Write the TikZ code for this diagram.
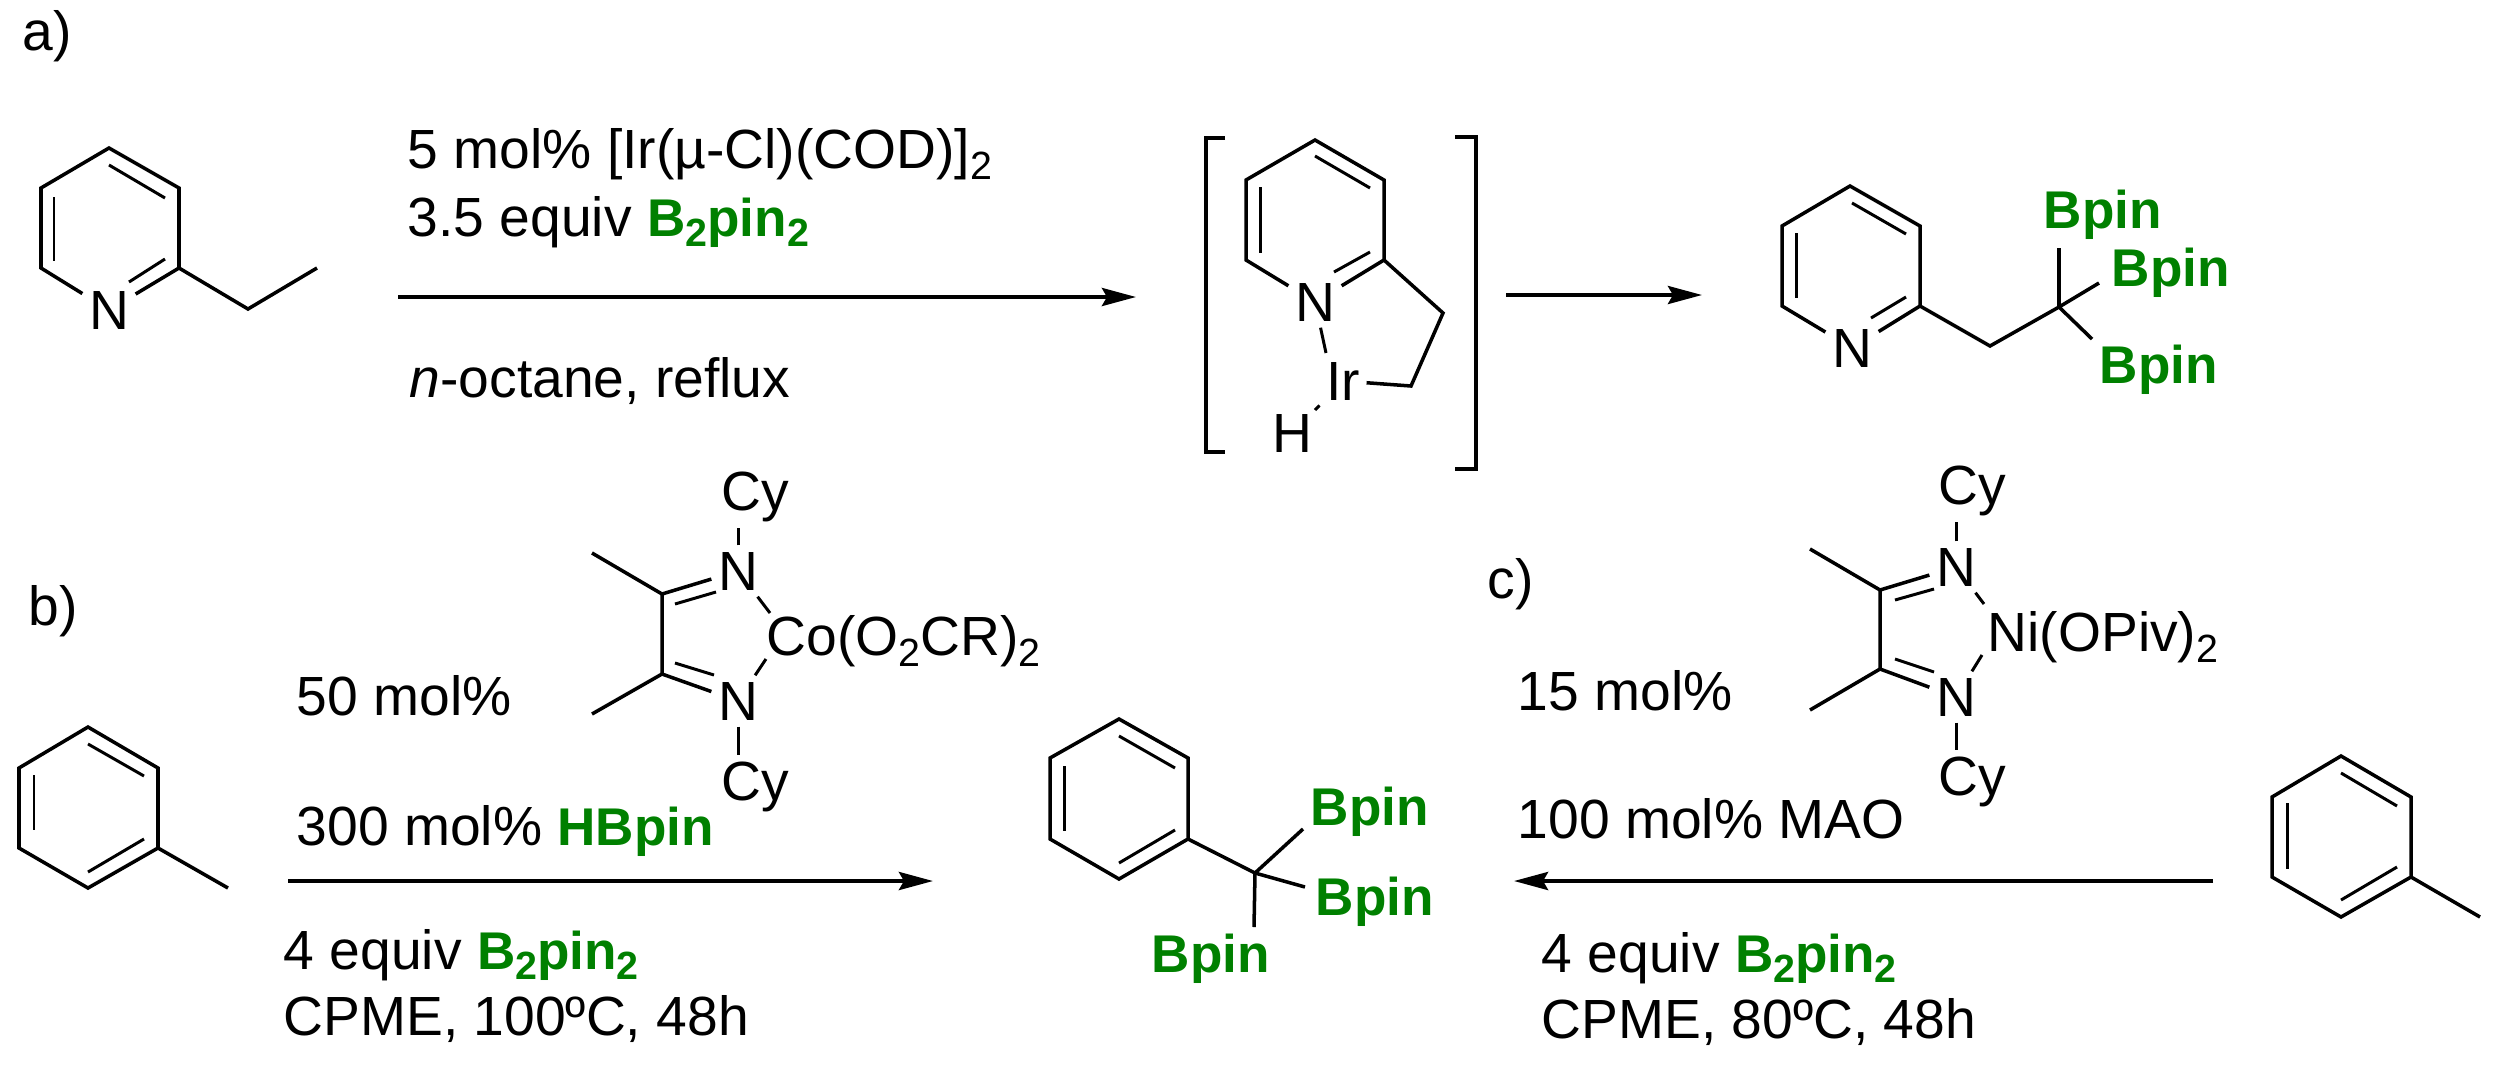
\documentclass[tikz,border=0pt]{standalone}
\usepackage{fontspec}
\setmainfont{Liberation Sans}
\usetikzlibrary{arrows.meta}
\definecolor{bgreen}{RGB}{0,128,0}
\newcommand{\ssub}[1]{\raisebox{-0.2em}{\fontsize{11.2}{12}\selectfont #1}}
\newcommand{\bor}[1]{{\color{bgreen}\bfseries\fontsize{15.1}{18}\selectfont #1}}
\newcommand{\btwo}{\bor{B\ssub{2}pin\ssub{2}}}
\tikzstyle{every node}=[font=\fontsize{15.7}{18}\selectfont]
\tikzstyle{txt}=[inner sep=0pt, anchor=base west]
\tikzstyle{atom}=[inner sep=0.06cm]
\tikzstyle{cyl}=[inner sep=0.06cm, anchor=base]
\tikzstyle{bond}=[line width=1pt, line join=miter]
\tikzstyle{thin bond}=[line width=0.85pt]
\tikzstyle{rxn}=[line width=1.15pt, -{Stealth[length=0.34cm,width=0.18cm,inset=0.05cm]}]
\tikzstyle{brk}=[line width=1.1pt]

\begin{document}
\begin{tikzpicture}[x=0.01cm,y=-0.01cm]
  \useasboundingbox (0,0) rectangle (2506,1069);

  % part a
  \node[txt] (laba) at (22,50) {a)};
  \node[atom] (na) at (109,310) {N};
  \draw[bond] (na) -- (41,268) -- (41,188) -- (109,148) -- (179,188) -- (179,268) coordinate (ra) -- (248,309) -- (317,268);
  \draw[bond] (ra) -- (na);
  \draw[thin bond] (54,197) -- (54,261);
  \draw[thin bond] (109,165) -- (165,198);
  \draw[thin bond] (165,259) -- (129,282);

  \coordinate (a1s) at (398,297);
  \coordinate (a1e) at (1136,297);
  \draw[rxn] (a1s) -- (a1e);
  \node[txt] (ira) at (407,168) {5 mol\% [Ir(µ-Cl)(COD)]\ssub{2}};
  \node[txt] (bpa) at (407,236) {3.5 equiv \btwo};
  \node[txt] (sola) at (409,397) {\textit{n}-octane, reflux};

  % intermediate
  \draw[brk] (1225,138) -- (1206,138) -- (1206,452) -- (1225,452);
  \draw[brk] (1455,137) -- (1476,137) -- (1476,469) -- (1455,469);
  \node[atom] (ni) at (1315,302) {N};
  \node[atom] (ir) at (1343,381) {Ir};
  \node[atom] (hy) at (1292,433) {H};
  \draw[bond] (ni) -- (1246,260) -- (1246,180) -- (1315,140) -- (1384,180) -- (1384,260) coordinate (ri) -- (1443,313) -- (1411,386) -- (ir);
  \draw[bond] (ri) -- (ni);
  \draw[thin bond] (1260,187) -- (1260,253);
  \draw[thin bond] (1315,156) -- (1370,188);
  \draw[thin bond] (1370,252) -- (1334,272);
  \coordinate (irn) at (1326,353);
  \coordinate (irh) at (1315,410);
  \draw[thin bond] (ni) -- (irn);
  \draw[thin bond] (ir) -- (irh);

  \coordinate (a2s) at (1506,295);
  \coordinate (a2e) at (1702,295);
  \draw[rxn] (a2s) -- (a2e);

  % product of a
  \node[atom] (np) at (1852,348) {N};
  \draw[bond] (np) -- (1782,306) -- (1782,226) -- (1850,186) -- (1920,226) -- (1920,306) coordinate (rp) -- (1990,346) -- (2059,307) coordinate (cp);
  \draw[bond] (rp) -- (np);
  \draw[thin bond] (1796,233) -- (1796,298);
  \draw[thin bond] (1852,203) -- (1906,234);
  \draw[thin bond] (1906,297) -- (1871,318);
  \node[txt] (bp1) at (2043,228) {\bor{Bpin}};
  \node[txt] (bp2) at (2111,286) {\bor{Bpin}};
  \node[txt] (bp3) at (2099,383) {\bor{Bpin}};
  \coordinate (e1) at (2059,248);
  \coordinate (e2) at (2099,283);
  \coordinate (e3) at (2092,339);
  \draw[bond] (cp) -- (e1);
  \draw[bond] (cp) -- (e2);
  \draw[bond] (cp) -- (e3);

  % part b
  \node[txt] (labb) at (28,625) {b)};
  \draw[bond] (158,848) coordinate (rb) -- (158,768) -- (88,727) -- (19,768) -- (19,848) -- (88,888) -- cycle;
  \draw[bond] (rb) -- (228,888);
  \draw[thin bond] (34,775) -- (34,830);
  \draw[thin bond] (88,744) -- (144,776);
  \draw[thin bond] (144,839) -- (88,872);

  \node[txt] (molb) at (296,715) {50 mol\%};
  \node[atom] (nb1) at (738,571) {N};
  \node[atom] (nb2) at (738,701) {N};
  \node[txt] (cob) at (766,655) {Co(O\ssub{2}CR)\ssub{2}};
  \node[cyl] (cyb1) at (755,510) {Cy};
  \node[cyl] (cyb2) at (755,800) {Cy};
  \draw[bond] (nb1) -- (662,594) coordinate (ib1) -- (662,674) coordinate (ib2) -- (nb2);
  \draw[bond] (ib1) -- (592,553);
  \draw[bond] (ib2) -- (592,714);
  \draw[thin bond] (675,604) -- (716,592);
  \draw[thin bond] (675,663) -- (714,675);
  \coordinate (cob1) at (770,613);
  \coordinate (cob2) at (766,659);
  \draw[thin bond] (nb1) -- (cob1);
  \draw[thin bond] (nb2) -- (cob2);
  \draw[thin bond] (nb1) -- (nb1 |- cyb1.south);
  \draw[thin bond] (nb2) -- (nb2 |- cyb2.north);

  \node[txt] (hbb) at (296,845) {300 mol\% \bor{HBpin}};
  \coordinate (a3s) at (288,881);
  \coordinate (a3e) at (933,881);
  \draw[rxn] (a3s) -- (a3e);
  \node[txt] (bpb) at (283,969) {4 equiv \btwo};
  \node[txt] (solb) at (283,1035) {CPME, 100ºC, 48h};

  % central product
  \draw[bond] (1188,839) coordinate (rc) -- (1188,758) -- (1119,719) -- (1050,758) -- (1050,839) -- (1119,879) -- cycle;
  \draw[bond] (rc) -- (1255,873) coordinate (cc);
  \draw[thin bond] (1064,766) -- (1064,831);
  \draw[thin bond] (1119,736) -- (1175,768);
  \draw[thin bond] (1175,830) -- (1119,863);
  \node[txt] (bc1) at (1310,825) {\bor{Bpin}};
  \node[txt] (bc2) at (1315,915) {\bor{Bpin}};
  \node[txt] (bc3) at (1151,972) {\bor{Bpin}};
  \coordinate (f1) at (1303,829);
  \coordinate (f2) at (1305,887);
  \coordinate (f3) at (1254,927);
  \draw[bond] (cc) -- (f1);
  \draw[bond] (cc) -- (f2);
  \draw[bond] (cc) -- (f3);

  % part c
  \node[txt] (labc) at (1487,598) {c)};
  \node[txt] (molc) at (1517,710) {15 mol\%};
  \node[atom] (nc1) at (1956,567) {N};
  \node[atom] (nc2) at (1956,697) {N};
  \node[txt] (nic) at (1987,651) {Ni(OPiv)\ssub{2}};
  \node[cyl] (cyc1) at (1972,504) {Cy};
  \node[cyl] (cyc2) at (1972,795) {Cy};
  \draw[bond] (nc1) -- (1880,590) coordinate (ic1) -- (1880,669) coordinate (ic2) -- (nc2);
  \draw[bond] (ic1) -- (1810,549);
  \draw[bond] (ic2) -- (1810,710);
  \draw[thin bond] (1895,600) -- (1934,589);
  \draw[thin bond] (1895,659) -- (1934,672);
  \coordinate (nic1) at (1984,604);
  \coordinate (nic2) at (1982,655);
  \draw[thin bond] (nc1) -- (nic1);
  \draw[thin bond] (nc2) -- (nic2);
  \draw[thin bond] (nc1) -- (nc1 |- cyc1.south);
  \draw[thin bond] (nc2) -- (nc2 |- cyc2.north);

  \node[txt] (maoc) at (1517,838) {100 mol\% MAO};
  \coordinate (a4s) at (2213,881);
  \coordinate (a4e) at (1514,881);
  \draw[rxn] (a4s) -- (a4e);
  \node[txt] (bpc) at (1541,972) {4 equiv \btwo};
  \node[txt] (solc) at (1541,1038) {CPME, 80ºC, 48h};

  \draw[bond] (2411,877) coordinate (rt) -- (2411,797) -- (2341,756) -- (2272,797) -- (2272,877) -- (2341,917) -- cycle;
  \draw[bond] (rt) -- (2480,917);
  \draw[thin bond] (2287,803) -- (2287,869);
  \draw[thin bond] (2341,773) -- (2397,806);
  \draw[thin bond] (2397,867) -- (2341,900);
\end{tikzpicture}
\end{document}
